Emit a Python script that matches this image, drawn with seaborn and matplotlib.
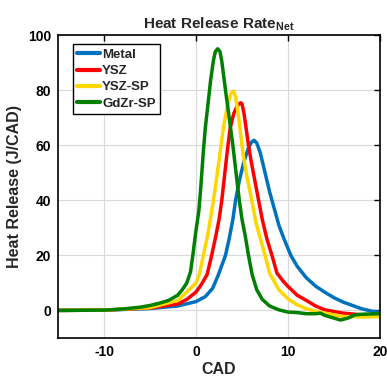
import numpy as np
import pandas as pd
import matplotlib
matplotlib.use("Agg")
import matplotlib.pyplot as plt
import seaborn as sns

# ---- data ----
metal_x = [-15, -10, -5, -2, -1, 0, 1, 1.8, 2.4, 3.2, 3.6, 4.0, 4.3, 4.7, 5.2, 5.7, 6.0, 6.3, 6.6, 7.0, 7.5, 8.0, 8.5, 9.0, 9.5, 10.3, 11, 12, 13, 14, 15, 16, 17, 18, 19, 20]
metal_y = [0, 0.1, 0.7, 1.6, 2.4, 3.2, 5, 8, 12.7, 20, 26, 33, 40, 47, 54, 59, 61, 61.8, 60.8, 57, 50, 43, 37, 31, 26.5, 20, 16, 11.8, 8.8, 6.6, 4.6, 3.0, 1.8, 0.6, -0.2, -0.7]

ysz_x = [-15, -10, -5, -2, -1, 0, 0.6, 1.2, 1.7, 2.15, 2.5, 2.8, 3.1, 3.4, 3.7, 4.1, 4.5, 4.85, 5.0, 5.2, 5.45, 5.7, 6.0, 6.4, 6.8, 7.2, 7.7, 8.25, 8.8, 9.5, 10, 11, 12, 13, 14, 16, 18, 20]
ysz_y = [0, 0.1, 0.9, 2.3, 4, 6.7, 9.5, 13, 20, 27, 33, 40, 49, 58, 66, 71.5, 74.5, 75.4, 75, 71.8, 66, 60, 54, 47, 40, 33, 26, 20, 13.5, 10.5, 8.7, 5.5, 3.6, 1.6, 0.2, -1, -1.6, -1.3]

yszsp_x = [-15, -10, -5, -2, -1, 0, 0.35, 0.8, 1.3, 1.8, 2.2, 2.6, 3.0, 3.4, 3.75, 4.05, 4.3, 4.6, 4.85, 5.1, 5.5, 6.0, 6.5, 7.0, 7.5, 8.0, 9, 10, 11, 12, 13, 14, 16, 18, 20]
yszsp_y = [0, 0.1, 1, 3.6, 6.7, 10, 13, 20, 28, 38, 47, 57, 67, 74, 78.5, 79.7, 77.5, 71, 64, 57, 49, 41, 32, 26, 20, 13.5, 7.5, 4.2, 2, 0.6, -0.3, -1, -2.2, -2.4, -2.2]

gdzr_x = [-15, -10, -8, -6, -5, -4, -3, -2, -1.5, -1, -0.6, -0.35, -0.05, 0.3, 0.5, 0.8, 1.0, 1.3, 1.6, 1.9, 2.1, 2.35, 2.6, 2.8, 3.2, 3.6, 4.0, 4.35, 4.7, 5.0, 5.35, 5.7, 6.1, 6.6, 7.2, 8, 9, 10, 11, 12, 13, 13.5, 14, 15, 15.7, 16.5, 17.3, 18, 20]
gdzr_y = [0, 0.1, 0.5, 1.2, 1.8, 2.6, 3.6, 5.5, 7.5, 10, 14, 20, 28, 36, 44, 58, 66, 75, 84, 91, 94, 95, 94, 90.5, 80, 70, 60, 50, 40, 33, 27, 20, 13, 7.5, 4, 1.6, 0.2, -0.6, -0.8, -1.2, -1.2, -1.0, -1.8, -2.8, -3.5, -2.8, -1.6, -1.4, -1.2]

series_names = ["Metal", "YSZ", "YSZ-SP", "GdZr-SP"]
series_colors = ["#0072BD", "#FF0000", "#FFD700", "#008000"]

title_text = r"Heat Release Rate$_{\mathbf{Net}}$"
x_label = "CAD"
y_label = "Heat Release (J/CAD)"
x_ticks = [-10, 0, 10, 20]
y_ticks = [0, 20, 40, 60, 80, 100]

# ---- build long-form table ----
frames = []
for name, xs, ys in zip(series_names,
                        [metal_x, ysz_x, yszsp_x, gdzr_x],
                        [metal_y, ysz_y, yszsp_y, gdzr_y]):
    frames.append(pd.DataFrame({"CAD": xs, "HR": ys, "series": name}))
df = pd.concat(frames, ignore_index=True)

sns.set_style("white")
plt.rcParams["font.family"] = ["Liberation Sans", "DejaVu Sans"]
plt.rcParams["font.weight"] = "bold"
plt.rcParams["axes.unicode_minus"] = False
plt.rcParams["lines.solid_joinstyle"] = "round"
plt.rcParams["mathtext.fontset"] = "custom"
plt.rcParams["mathtext.rm"] = "Liberation Sans:bold"
plt.rcParams["mathtext.bf"] = "Liberation Sans:bold"
plt.rcParams["mathtext.it"] = "Liberation Sans:bold"

fig = plt.figure(figsize=(3.87, 3.81), dpi=100)
ax = fig.add_axes([0.150, 0.113, 0.832, 0.795])

sns.lineplot(data=df, x="CAD", y="HR", hue="series", hue_order=series_names,
             palette=dict(zip(series_names, series_colors)), estimator=None,
             sort=False, linewidth=2.5, ax=ax)

ax.set_xlim(-15, 20)
ax.set_ylim(-10, 100)
ax.set_xticks(x_ticks)
ax.set_yticks(y_ticks)
ax.grid(True, color="#d9d9d9", linewidth=0.8)
ax.set_axisbelow(True)
for s in ax.spines.values():
    s.set_color("black")
    s.set_linewidth(1.2)
    s.set_visible(True)
ax.tick_params(direction="in", length=4, width=1.0, top=True, right=True,
               labelsize=10, pad=5, colors="black")
for lab in ax.get_xticklabels() + ax.get_yticklabels():
    lab.set_fontweight("bold")

ax.set_xlabel(x_label, fontsize=11.5, fontweight="bold", labelpad=2)
ax.set_ylabel(y_label, fontsize=11.5, fontweight="bold", labelpad=4)
ax.set_title(title_text, fontsize=11, fontweight="bold", pad=5)

leg = ax.legend(loc="upper left", bbox_to_anchor=(0.045, 0.97), frameon=True,
                fancybox=False, edgecolor="black", framealpha=1,
                fontsize=9.5, handlelength=1.7, handletextpad=0.2,
                labelspacing=0.3, borderpad=0.35, borderaxespad=0)
leg.get_frame().set_linewidth(1.0)
for t in leg.get_texts():
    t.set_fontweight("bold")
for l in leg.get_lines():
    l.set_linewidth(3)

fig.savefig("out.png", dpi=100)
